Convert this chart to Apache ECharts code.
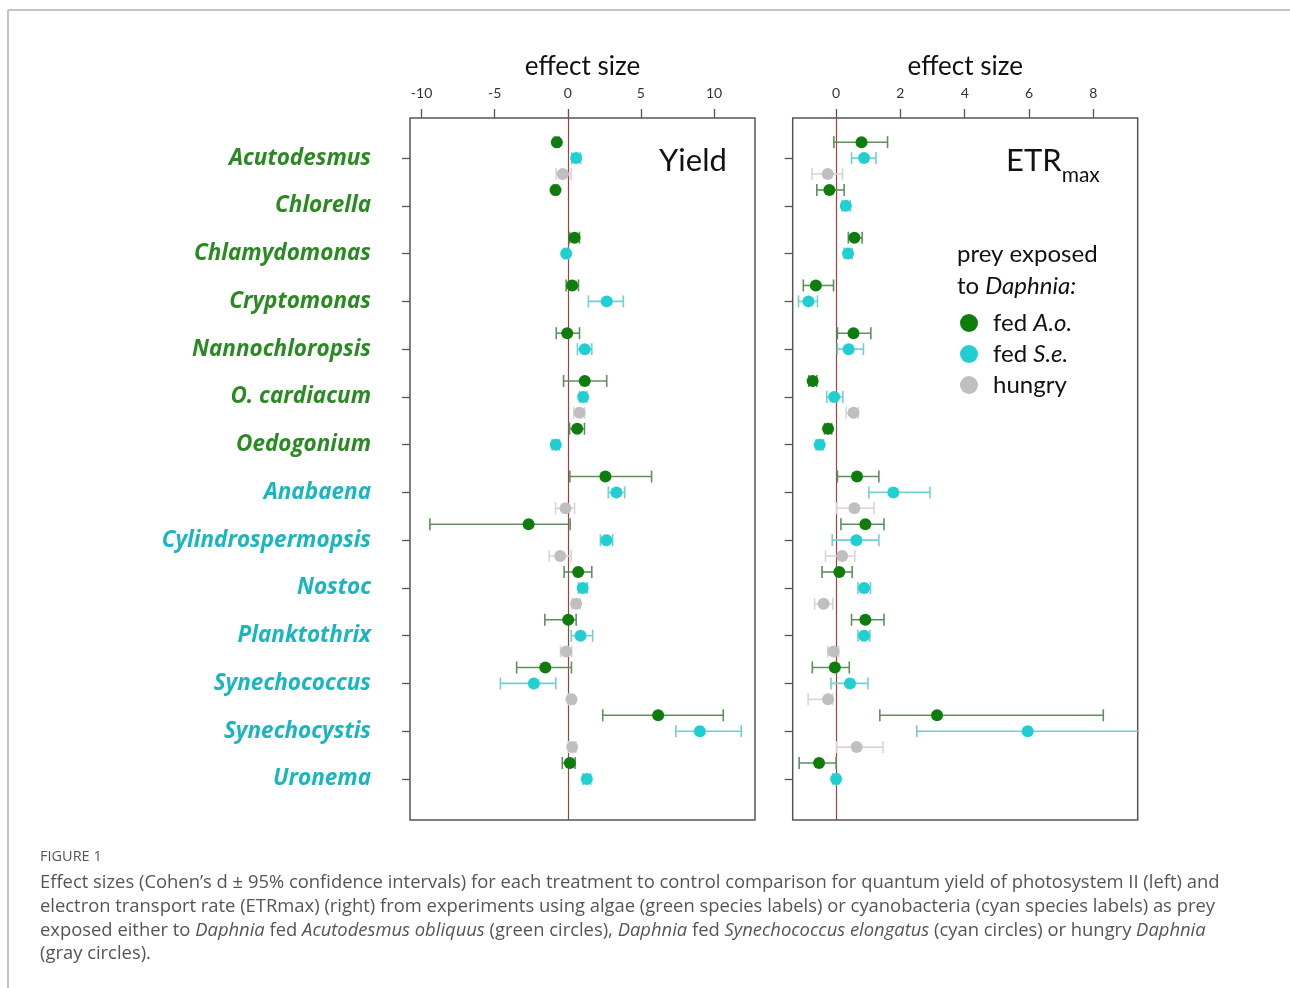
<!DOCTYPE html>
<html><head><meta charset="utf-8">
<script src="https://cdn.jsdelivr.net/npm/echarts@6/dist/echarts.min.js"></script>
<style>html,body{margin:0;padding:0;background:#fff}#c{width:1290px;height:988px}</style>
</head><body><div id="c"></div>
<script>
// ---------------- data ----------------
const categories = ['Acutodesmus','Chlorella','Chlamydomonas','Cryptomonas','Nannochloropsis','O. cardiacum','Oedogonium','Anabaena','Cylindrospermopsis','Nostoc','Planktothrix','Synechococcus','Synechocystis','Uronema'];
const preyGroup = ['alga','alga','alga','alga','alga','alga','alga','cyano','cyano','cyano','cyano','cyano','cyano','cyano'];
const treatments = ['fed A.o.','fed S.e.','hungry'];
const yieldTicks = [-10,-5,0,5,10];
const etrTicks = [0,2,4,6,8];

// [estimate, lower CI, upper CI] per category, null = not measured
const yieldAo = [
 [-0.75,-0.9,-0.6],[-0.84,-0.98,-0.7],[0.46,0.12,0.8],[0.30,-0.11,0.73],[-0.04,-0.79,0.8],
 [1.16,-0.29,2.66],[0.64,0.12,1.14],[2.57,0.14,5.73],[-2.68,-9.43,0.16],[0.71,-0.25,1.64],
 [0.03,-1.57,0.57],[-1.54,-3.5,0.25],[6.18,2.39,10.63],[0.14,-0.38,0.5]
];
const yieldSe = [
 [0.57,0.27,0.87],null,[-0.11,-0.28,0.06],[2.66,1.41,3.8],[1.16,0.66,1.64],
 [1.05,0.8,1.3],[-0.82,-1.07,-0.57],[3.32,2.77,3.89],[2.64,2.23,3.07],[1.02,0.73,1.32],
 [0.87,0.23,1.7],[-2.32,-4.61,-0.82],[9.03,7.39,11.86],[1.3,1.05,1.56]
];
const yieldHungry = [
 [-0.34,-0.79,0.23],null,null,null,null,
 [0.8,0.4,1.15],null,[-0.16,-0.84,0.46],[-0.52,-1.27,0.23],[0.57,0.3,0.84],
 [-0.11,-0.5,0.27],[0.25,0.05,0.45],[0.3,0.05,0.55],null
];
const etrAo = [
 [0.79,-0.07,1.6],[-0.21,-0.6,0.25],[0.57,0.38,0.81],[-0.63,-1.02,-0.08],[0.54,0.04,1.08],
 [-0.73,-0.85,-0.6],[-0.25,-0.36,-0.14],[0.65,0.04,1.33],[0.91,0.15,1.49],[0.1,-0.44,0.5],
 [0.91,0.48,1.49],[-0.04,-0.74,0.41],[3.14,1.36,8.31],[-0.53,-1.15,0.0]
];
const etrSe = [
 [0.87,0.48,1.24],[0.3,0.18,0.44],[0.37,0.25,0.5],[-0.86,-1.17,-0.58],[0.39,0.04,0.85],
 [-0.06,-0.29,0.21],[-0.51,-0.62,-0.4],[1.78,1.02,2.92],[0.63,-0.12,1.33],[0.87,0.68,1.07],
 [0.87,0.68,1.05],[0.43,-0.16,0.99],[5.96,2.51,9.45],[0.0,-0.1,0.08]
];
const etrHungry = [
 [-0.26,-0.75,0.2],null,null,null,null,
 [0.54,0.31,0.69],null,[0.57,0.02,1.18],[0.19,-0.33,0.58],[-0.39,-0.67,-0.1],
 [-0.08,-0.26,0.08],[-0.25,-0.87,-0.11],[0.64,0.02,1.46],null
];

// ---------------- styles ----------------
const pointColors = ['#0e7d0e','#1fcfd2','#bfbfbf'];
const barColors = ['#5f8f5f','#73cfcf','#d6d6d6'];
const labelColors = {alga:'#2a8a22', cyano:'#19b6c0'};
const offsets = [-1/3, 0, 1/3];
const FONT = 'Lato, "Open Sans", sans-serif';

const chart = echarts.init(document.getElementById('c'));

function barRenderer(color){
  return function(params, api){
    const y = api.value(2);
    const p1 = api.coord([api.value(0), y]);
    const p2 = api.coord([api.value(1), y]);
    const h = 6;
    const style = {stroke: color, lineWidth: 1.6, fill: null};
    return {type:'group', children:[
      {type:'line', shape:{x1:p1[0],y1:p1[1],x2:p2[0],y2:p2[1]}, style:style},
      {type:'line', shape:{x1:p1[0],y1:p1[1]-h,x2:p1[0],y2:p1[1]+h}, style:style},
      {type:'line', shape:{x1:p2[0],y1:p2[1]-h,x2:p2[0],y2:p2[1]+h}, style:style}
    ]};
  };
}

const panels = [
  {sets:[yieldAo,yieldSe,yieldHungry], ticks:yieldTicks, min:-10.79, max:12.8, left:410},
  {sets:[etrAo,etrSe,etrHungry], ticks:etrTicks, min:-1.35, max:9.38, left:792.7}
];
const tickIdx = categories.map((c,i)=>i);

const grids = [], xAxes = [], yAxes = [], series = [];
panels.forEach((p, pi) => {
  grids.push({left:p.left, top:118, width:345, height:702, show:true, borderColor:'#555', borderWidth:1.5, backgroundColor:'transparent'});
  xAxes.push({
    gridIndex:pi, type:'value', position:'top', min:p.min, max:p.max,
    name:'effect size', nameLocation:'middle', nameGap:38,
    nameTextStyle:{fontFamily:FONT, fontSize:26, color:'#111'},
    axisLine:{show:false, onZero:false},
    axisTick:{show:true, length:9, customValues:p.ticks, lineStyle:{color:'#555', width:1.3}},
    axisLabel:{show:true, customValues:p.ticks, margin:18, fontFamily:FONT, fontSize:14, color:'#333'},
    splitLine:{show:false}
  });
  yAxes.push({
    gridIndex:pi, type:'value', inverse:true, min:-0.84, max:13.86,
    axisLine:{show:false, onZero:false},
    axisTick:{show:true, length:8, customValues:tickIdx, lineStyle:{color:'#555', width:1.3}},
    axisLabel:{show:pi===0, customValues:tickIdx, margin:39,
      formatter:v=>categories[Math.round(v)] || '',
      color:(v)=>labelColors[preyGroup[Math.round(v)]] || '#333',
      fontFamily:'"Open Sans", sans-serif', fontSize:22.5, fontWeight:'bold', fontStyle:'italic'},
    splitLine:{show:false}
  });
  p.sets.forEach((rows, ti) => {
    const barData = [], ptData = [];
    rows.forEach((r, i) => {
      if (!r) return;
      barData.push([r[1], r[2], i + offsets[ti]]);
      ptData.push([r[0], i + offsets[ti]]);
    });
    const cs = {
      type:'custom', xAxisIndex:pi, yAxisIndex:pi, clip:true, silent:true, z:2,
      renderItem:barRenderer(barColors[ti]), encode:{x:[0,1], y:2}, data:barData
    };
    if (ti === 0) {
      cs.markLine = {silent:true, symbol:'none', z:1, label:{show:false},
        lineStyle:{color:'#a4403c', width:1.2, type:'solid'}, data:[{xAxis:0}]};
    }
    series.push(cs);
    series.push({
      type:'scatter', name:treatments[ti], xAxisIndex:pi, yAxisIndex:pi, z:3,
      symbol:'circle', symbolSize:12, itemStyle:{color:pointColors[ti], opacity:1},
      data:ptData, clip:true
    });
  });
});

const legendRich = {
  n:{fontFamily:FONT, fontSize:24, color:'#111', padding:[0,0,0,10], lineHeight:20},
  i:{fontFamily:FONT, fontSize:24, color:'#111', fontStyle:'italic', lineHeight:20}
};
const legendFmt = {'fed A.o.':'{n|fed }{i|A.o.}', 'fed S.e.':'{n|fed }{i|S.e.}', 'hungry':'{n|hungry}'};

const capN = {fontFamily:'"Open Sans", sans-serif', fontSize:18.4, fill:'#555'};
const capI = Object.assign({}, capN, {fontStyle:'italic'});
const capLines = [
  '{n|Effect sizes (Cohen’s d ± 95% confidence intervals) for each treatment to control comparison for quantum yield of photosystem II (left) and}',
  '{n|electron transport rate (ETRmax) (right) from experiments using algae (green species labels) or cyanobacteria (cyan species labels) as prey}',
  '{n|exposed either to }{i|Daphnia}{n| fed }{i|Acutodesmus obliquus}{n| (green circles), }{i|Daphnia}{n| fed }{i|Synechococcus elongatus}{n| (cyan circles) or hungry }{i|Daphnia}',
  '{n|(gray circles).}'
];

const graphic = [
  {type:'line', silent:true, shape:{x1:8, y1:10, x2:1290, y2:10}, style:{stroke:'#c4c4c4', lineWidth:2}},
  {type:'line', silent:true, shape:{x1:8, y1:10, x2:8, y2:988}, style:{stroke:'#c4c4c4', lineWidth:2}},
  {type:'text', left:659, top:145, style:{text:'Yield', fontFamily:FONT, fontSize:31, fill:'#111'}},
  {type:'text', left:1006, top:145, style:{text:'{a|ETR}{b|max}', rich:{
    a:{fontFamily:FONT, fontSize:31, fill:'#111', lineHeight:36, verticalAlign:'top'},
    b:{fontFamily:FONT, fontSize:21, fill:'#111', lineHeight:22, padding:[20,0,0,0], verticalAlign:'top'}}}},
  {type:'text', left:957, top:242, style:{text:'{n|prey exposed}\n{n|to }{i|Daphnia:}', rich:{
    n:{fontFamily:FONT, fontSize:24, fill:'#111', lineHeight:32},
    i:{fontFamily:FONT, fontSize:24, fill:'#111', fontStyle:'italic', lineHeight:32}}}},
  {type:'text', left:40, top:849, style:{text:'FIGURE 1', fontFamily:'"Open Sans", sans-serif', fontSize:14.5, fill:'#555'}}
];
capLines.forEach((t, k) => {
  graphic.push({type:'text', left:40, top:874 + k*23.7, style:{text:t, rich:{n:capN, i:capI}}});
});

chart.setOption({
  animation:false,
  backgroundColor:'#fff',
  grid:grids, xAxis:xAxes, yAxis:yAxes, series:series,
  legend:{
    data:treatments, orient:'vertical', left:960, top:311, padding:0,
    icon:'circle', itemWidth:18, itemHeight:18, itemGap:7,
    formatter:n=>legendFmt[n], textStyle:{rich:legendRich}, selectedMode:false
  },
  graphic:graphic
});
</script></body></html>
